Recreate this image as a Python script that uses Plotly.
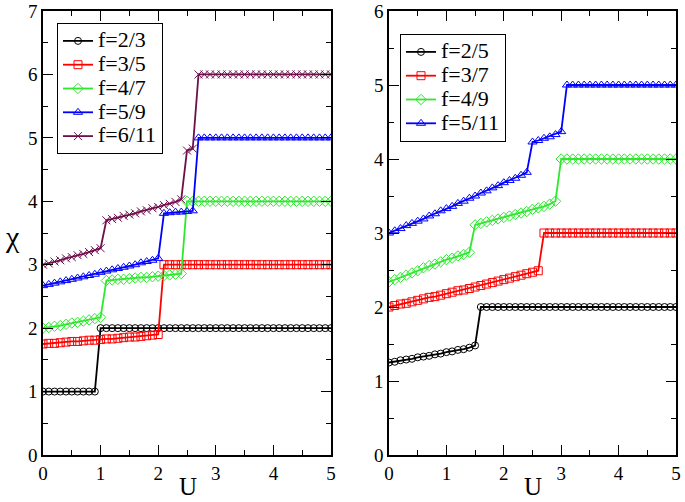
import plotly.graph_objects as go

U = [0.0, 0.1, 0.2, 0.3, 0.4, 0.5, 0.6, 0.7, 0.8, 0.9,
     1.0, 1.1, 1.2, 1.3, 1.4, 1.5, 1.6, 1.7, 1.8, 1.9,
     2.0, 2.1, 2.2, 2.3, 2.4, 2.5, 2.6, 2.7, 2.8, 2.9,
     3.0, 3.1, 3.2, 3.3, 3.4, 3.5, 3.6, 3.7, 3.8, 3.9,
     4.0, 4.1, 4.2, 4.3, 4.4, 4.5, 4.6, 4.7, 4.8, 4.9, 5.0]

# Left panel
chi_2_3 = [1.0] * 10 + [2.0] * 41
chi_3_5 = [1.75, 1.76, 1.76, 1.77, 1.78, 1.79, 1.79, 1.80, 1.81, 1.81, 1.82,
           1.83, 1.83, 1.84, 1.85, 1.86, 1.86, 1.87, 1.88, 1.89, 1.90] + [3.0] * 30
chi_4_7 = [2.00, 2.01, 2.03, 2.04, 2.06, 2.08, 2.09, 2.11, 2.13, 2.15, 2.17] + \
          [2.75, 2.76, 2.77, 2.77, 2.78, 2.79, 2.80, 2.80, 2.81, 2.82, 2.83, 2.84, 2.85, 2.86] + \
          [4.0] * 26
chi_5_9 = [2.67, 2.69, 2.71, 2.73, 2.75, 2.77, 2.79, 2.81, 2.83, 2.85, 2.88,
           2.90, 2.92, 2.94, 2.96, 2.98, 3.00, 3.03, 3.05, 3.07, 3.10] + \
          [3.81, 3.82, 3.83, 3.83, 3.84, 3.85] + [5.0] * 24
chi_6_11 = [3.00, 3.02, 3.05, 3.07, 3.10, 3.12, 3.15, 3.17, 3.20, 3.23, 3.26] + \
           [3.70, 3.72, 3.74, 3.77, 3.79, 3.81, 3.84, 3.86, 3.89, 3.91, 3.94, 3.96, 3.99, 4.03] + \
           [4.80, 4.83] + [6.0] * 24

# Right panel
chi_2_5 = [1.25, 1.26, 1.28, 1.29, 1.30, 1.32, 1.33, 1.34, 1.36, 1.37, 1.39,
           1.40, 1.42, 1.43, 1.45, 1.48] + [2.0] * 35
chi_3_7 = [2.00, 2.02, 2.04, 2.05, 2.07, 2.09, 2.11, 2.13, 2.14, 2.16, 2.18,
           2.20, 2.22, 2.23, 2.25, 2.27, 2.29, 2.31, 2.33, 2.35, 2.37, 2.39,
           2.41, 2.43, 2.45, 2.47, 2.49] + [3.0] * 24
chi_4_9 = [2.34, 2.37, 2.40, 2.43, 2.46, 2.49, 2.53, 2.56, 2.58, 2.61, 2.64,
           2.66, 2.69, 2.71, 2.74] + \
          [3.11, 3.13, 3.15, 3.17, 3.19, 3.21, 3.23, 3.25, 3.27, 3.29, 3.32,
           3.34, 3.36, 3.39, 3.43] + [4.0] * 21
chi_5_11 = [3.00, 3.03, 3.06, 3.10, 3.13, 3.16, 3.19, 3.23, 3.26, 3.30, 3.33,
            3.36, 3.40, 3.43, 3.47, 3.50, 3.54, 3.57, 3.61, 3.64, 3.68, 3.71,
            3.74, 3.78, 3.82] + \
           [4.23, 4.25, 4.28, 4.30, 4.33, 4.37] + [5.0] * 20

left_names = ["f=2/3", "f=3/5", "f=4/7", "f=5/9", "f=6/11"]
left_series = [chi_2_3, chi_3_5, chi_4_7, chi_5_9, chi_6_11]
right_names = ["f=2/5", "f=3/7", "f=4/9", "f=5/11"]
right_series = [chi_2_5, chi_3_7, chi_4_9, chi_5_11]

colors = ["#000000", "#ff0000", "#2ee82e", "#0000ff", "#6e0f4c"]
symbols = ["circle-open", "square-open", "diamond-open", "triangle-up-open", "x-thin-open"]
sizes = [7, 8, 8, 8, 8]

FONT = "Liberation Serif"
LEG_TXT = '<span style="font-size:22px">{}</span>'

fig = go.Figure()

for i, (n, s) in enumerate(zip(left_names, left_series)):
    fig.add_trace(go.Scatter(
        x=U, y=s, name=LEG_TXT.format(n), mode="lines+markers",
        line=dict(color=colors[i], width=1.8),
        marker=dict(symbol=symbols[i], size=sizes[i], color=colors[i],
                    line=dict(color=colors[i], width=1)),
        xaxis="x", yaxis="y", legend="legend"))

for i, (n, s) in enumerate(zip(right_names, right_series)):
    fig.add_trace(go.Scatter(
        x=U, y=s, name=LEG_TXT.format(n), mode="lines+markers",
        line=dict(color=colors[i], width=1.8),
        marker=dict(symbol=symbols[i], size=sizes[i], color=colors[i],
                    line=dict(color=colors[i], width=1)),
        xaxis="x2", yaxis="y2", legend="legend2"))

W, H = 685, 502
ML, MR, MT, MB = 43, 9, 11, 47
PW = W - ML - MR
PH = H - MT - MB

def px_x(p):
    return (p - ML) / PW

def px_y(p):
    return 1 - (p - MT) / PH

def xaxis(domain, anchor):
    return dict(domain=domain, anchor=anchor, range=[0, 5], dtick=1, tick0=0,
                showline=True, linecolor="black", linewidth=1.5, mirror="ticks",
                ticks="inside", ticklen=10, tickwidth=1.2, tickcolor="black",
                minor=dict(ticks="inside", ticklen=5, dtick=0.5, tickcolor="black", tickwidth=1.2),
                showgrid=False, zeroline=False, automargin=False,
                tickfont=dict(family=FONT, size=19, color="black"))

def yaxis(rng, anchor):
    return dict(domain=[0, 1], anchor=anchor, range=rng, dtick=1, tick0=0,
                showline=True, linecolor="black", linewidth=1.5, mirror="ticks",
                ticks="inside", ticklen=10, tickwidth=1.2, tickcolor="black",
                minor=dict(ticks="inside", ticklen=5, dtick=0.5, tickcolor="black", tickwidth=1.2),
                showgrid=False, zeroline=False, automargin=False,
                tickfont=dict(family=FONT, size=19, color="black"))

legend_style = dict(bgcolor="white", bordercolor="black", borderwidth=1,
                    font=dict(family=FONT, size=16, color="black"),
                    xanchor="left", yanchor="top", tracegroupgap=0,
                    xref="paper", yref="paper")

fig.update_layout(
    width=W, height=H,
    margin=dict(l=ML, r=MR, t=MT, b=MB, autoexpand=False),
    paper_bgcolor="white", plot_bgcolor="white",
    showlegend=True,
    font=dict(family=FONT, color="black"),
    xaxis=xaxis([0, px_x(331)], "y"),
    yaxis=yaxis([0, 7], "x"),
    xaxis2=xaxis([px_x(389), 1], "y2"),
    yaxis2=yaxis([0, 6], "x2"),
    legend=dict(x=px_x(57), y=px_y(23), **legend_style),
    legend2=dict(x=px_x(400), y=px_y(34), **legend_style),
    annotations=[
        dict(text="U", x=px_x(188), y=px_y(486), xref="paper", yref="paper",
             showarrow=False, font=dict(family=FONT, size=25, color="black"),
             xanchor="center", yanchor="middle"),
        dict(text="U", x=px_x(533), y=px_y(486), xref="paper", yref="paper",
             showarrow=False, font=dict(family=FONT, size=25, color="black"),
             xanchor="center", yanchor="middle"),
        dict(text="χ", x=px_x(12), y=px_y(236), xref="paper", yref="paper",
             showarrow=False, font=dict(family=FONT, size=30, color="black"),
             xanchor="center", yanchor="middle"),
    ],
)

fig.write_html("out.html", config={"displayModeBar": False},
               post_script="document.body.style.margin='0';")
